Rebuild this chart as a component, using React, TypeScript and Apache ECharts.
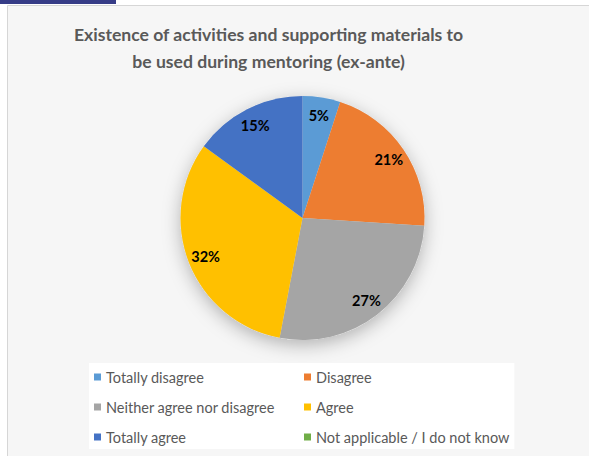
import React, { useEffect, useRef } from "react";
import * as echarts from "echarts";

const categories = [
  "Totally disagree",
  "Disagree",
  "Neither agree nor disagree",
  "Agree",
  "Totally agree",
  "Not applicable / I do not know",
];
const values = [5, 21, 27, 32, 15, 0];
const colors = ["#5B9BD5", "#ED7D31", "#A5A5A5", "#FFC000", "#4472C4", "#70AD47"];
const titleLines = [
  "Existence of activities and supporting materials to",
  "be used during mentoring (ex-ante)",
];

const FONT = "Lato, 'Open Sans', sans-serif";

export default function App() {
  const ref = useRef<HTMLDivElement>(null);
  useEffect(() => {
    if (!ref.current) return;
    const chart = echarts.init(ref.current, null, { renderer: "svg" });
    const R = 122;
    const center = [302.5, 218];
    const data = categories.map((name, i) => ({
      name,
      value: values[i],
      itemStyle: { color: colors[i] },
    }));
    chart.setOption({
      animation: false,
      graphic: [
        {
          type: "rect",
          z: -10,
          shape: { x: 0, y: 0, width: 589, height: 456 },
          style: { fill: "#ffffff" },
        },
        {
          type: "rect",
          z: -9,
          shape: { x: 7.5, y: 5.5, width: 590, height: 460 },
          style: { fill: "#f6f6f6", stroke: "#d6d6d6", lineWidth: 1 },
        },
        {
          type: "rect",
          z: -8,
          shape: { x: 0, y: 0, width: 116, height: 4 },
          style: { fill: "#363c87" },
        },
      ],
      title: {
        text: titleLines.join("\n"),
        left: 268.5,
        top: 21,
        textAlign: "center",
        padding: 0,
        textStyle: {
          fontFamily: FONT,
          fontSize: 17.6,
          fontWeight: "bold",
          color: "#595959",
          lineHeight: 27,
        },
      },
      legend: {
        data: categories,
        left: 89,
        top: 363,
        width: 430,
        orient: "horizontal",
        icon: "rect",
        itemWidth: 7,
        itemHeight: 7,
        itemGap: 10,
        padding: [4, 5, 2, 5],
        backgroundColor: "#ffffff",
        selectedMode: false,
        textStyle: {
          fontFamily: FONT,
          fontSize: 14.5,
          color: "#595959",
          width: 188,
          lineHeight: 20,
        },
      },
      series: [
        {
          type: "pie",
          z: 1,
          silent: true,
          center,
          radius: [0, R],
          data: [{ name: "shadow", value: 1 }],
          itemStyle: {
            color: "#e0e0e0",
            shadowBlur: 18,
            shadowColor: "rgba(0,0,0,0.28)",
            shadowOffsetY: 5,
          },
          label: { show: false },
          labelLine: { show: false },
          emphasis: { disabled: true },
        },
        {
          type: "pie",
          z: 2,
          center,
          radius: [0, R],
          startAngle: 90,
          clockwise: true,
          data,
          label: { show: false },
          labelLine: { show: false },
          emphasis: { disabled: true },
        },
        {
          type: "pie",
          z: 3,
          silent: true,
          center,
          radius: [R * 0.66, R],
          startAngle: 90,
          clockwise: true,
          data: categories.map((name, i) => ({ name, value: values[i] })),
          itemStyle: { color: "rgba(0,0,0,0)" },
          label: {
            show: true,
            position: "inside",
            formatter: (p: any) => (p.value > 0 ? `${p.value}%` : ""),
            fontFamily: FONT,
            fontSize: 14.5,
            fontWeight: "bold",
            color: "#000000",
          },
          labelLine: { show: false },
          emphasis: { disabled: true },
        },
      ],
    });
    return () => chart.dispose();
  }, []);
  return (
    <div
      ref={ref}
      style={{ position: "absolute", left: 0, top: 0, width: 589, height: 456 }}
    />
  );
}
